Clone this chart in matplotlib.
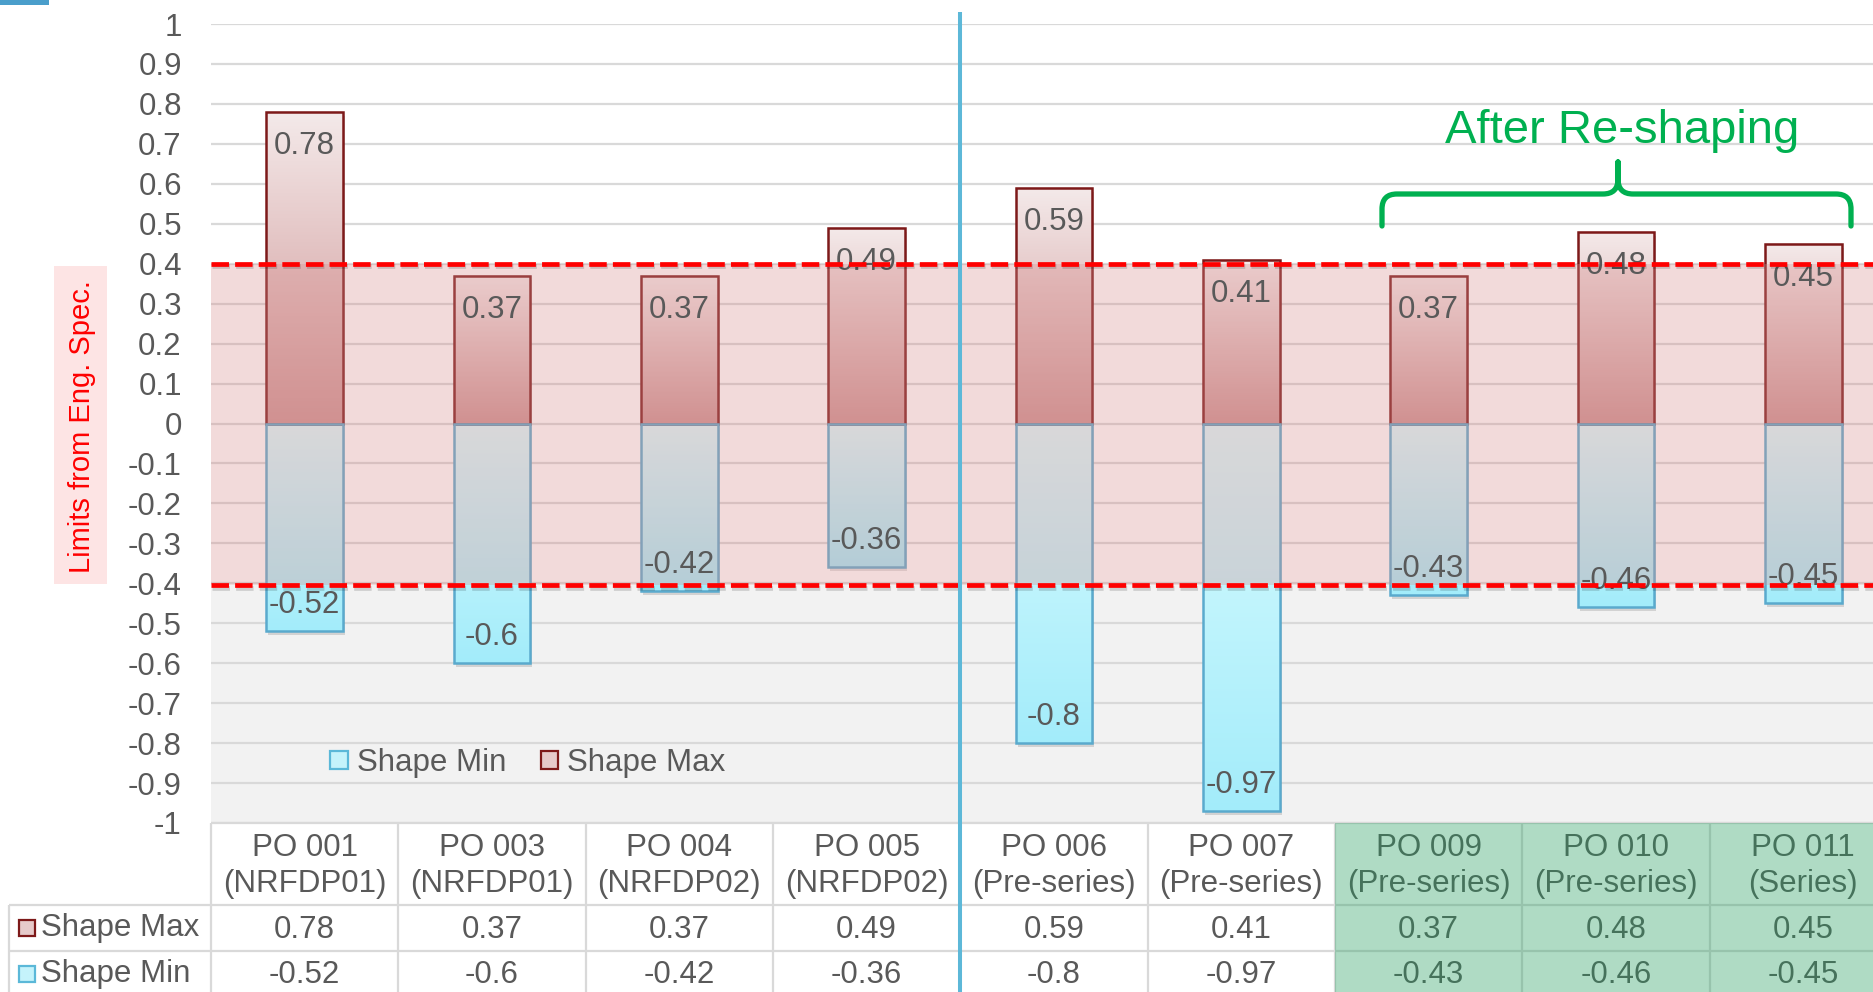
import numpy as np
import matplotlib
matplotlib.use("Agg")
import matplotlib.pyplot as plt
import matplotlib.transforms as mtransforms
import matplotlib.patheffects as pe
from matplotlib.patches import Rectangle, Patch, PathPatch
from matplotlib.path import Path

# ---- data -------------------------------------------------------------
categories = ["PO 001\n(NRFDP01)", "PO 003\n(NRFDP01)", "PO 004\n(NRFDP02)",
              "PO 005\n(NRFDP02)", "PO 006\n(Pre-series)", "PO 007\n(Pre-series)",
              "PO 009\n(Pre-series)", "PO 010\n(Pre-series)", "PO 011\n(Series)"]
shape_max = [0.78, 0.37, 0.37, 0.49, 0.59, 0.41, 0.37, 0.48, 0.45]
shape_min = [-0.52, -0.6, -0.42, -0.36, -0.8, -0.97, -0.43, -0.46, -0.45]
series_names = ["Shape Max", "Shape Min"]
spec_upper = 0.4
spec_lower = -0.405
y_ticks = [round(v, 1) for v in np.arange(-1.0, 1.001, 0.1)]
first_reshaped = 6          # PO 009 onwards
group_split = 3.5           # between PO 005 and PO 006

# ---- styling ----------------------------------------------------------
plt.rcParams["font.family"] = ["Liberation Sans", "DejaVu Sans"]
TXT = "#595959"
FS = 22.5
GRID = "#D9D9D9"
MAX_EDGE = "#7D1919"
MIN_EDGE = "#5AAACD"
MAX_TOP, MAX_BOT = (244, 234, 234), (206, 146, 146)
MIN_TOP, MIN_BOT = (218, 252, 255), (163, 236, 250)

W, H = 1873, 992
fig = plt.figure(figsize=(W / 100, H / 100), dpi=100)
fig.patch.set_facecolor("white")

# plot area in pixels: left 211, top 24, bottom 823, category pitch 187.33
L_PX, T_PX, B_PX, PITCH = 211, 24, 823, 187.33
n = len(categories)
ax = fig.add_axes([L_PX / W, 1 - B_PX / H, n * PITCH / W, (B_PX - T_PX) / H])
PX_PER_Y = (B_PX - T_PX) / 2.0


def px_x(px):
    return -0.5 + (px - L_PX) / PITCH


def px_y(py):
    return 1 - (py - T_PX) / PX_PER_Y


x = np.arange(n)
bw = 0.41

# background below the lower limit
ax.add_patch(Rectangle((-0.5, -1), n, spec_lower + 1, facecolor="#F2F2F2",
                       lw=0, zorder=0.1))

ax.set_axisbelow(True)
ax.grid(axis="y", color=GRID, lw=1.6)
ax.grid(axis="x", visible=False)


def gradient(c0, c1, steps=200):
    t = np.linspace(0, 1, steps)[:, None]
    g = (np.array(c0)[None, :] * (1 - t) + np.array(c1)[None, :] * t) / 255.0
    return g[:, None, :]


shadow_tf = mtransforms.offset_copy(ax.transData, fig=fig, x=2, y=-4, units="dots")
for vals in (shape_max, shape_min):
    ax.bar(x, vals, bw, color="black", alpha=0.13, lw=0, zorder=1.8,
           transform=shadow_tf)

for xi, vmax, vmin in zip(x, shape_max, shape_min):
    ax.imshow(gradient(MAX_TOP, MAX_BOT), extent=(xi - bw / 2, xi + bw / 2, 0, vmax),
              aspect="auto", origin="upper", zorder=2, interpolation="bilinear")
    ax.imshow(gradient(MIN_TOP, MIN_BOT), extent=(xi - bw / 2, xi + bw / 2, vmin, 0),
              aspect="auto", origin="upper", zorder=2, interpolation="bilinear")

ax.bar(x, shape_max, bw, facecolor="none", edgecolor=MAX_EDGE, lw=1.8, zorder=3)
ax.bar(x, shape_min, bw, facecolor="none", edgecolor=MIN_EDGE, lw=1.8, zorder=3)

# engineering specification band drawn over the bars
ax.add_patch(Rectangle((-0.5, spec_lower), n, spec_upper - spec_lower,
                       facecolor=(216 / 255, 144 / 255, 144 / 255), alpha=0.33,
                       lw=0, zorder=4))

# value labels inside the bar ends
for xi, vmax, vmin in zip(x, shape_max, shape_min):
    ax.annotate(f"{vmax:g}", (xi, vmax), xytext=(0, -34), textcoords="offset pixels",
                ha="center", va="center", fontsize=FS, color=TXT, zorder=5)
    ax.annotate(f"{vmin:g}", (xi, vmin), xytext=(0, 26), textcoords="offset pixels",
                ha="center", va="center", fontsize=FS, color=TXT, zorder=5)

shadow = [pe.SimpleLineShadow(offset=(1, -2), shadow_color="black", alpha=0.15), pe.Normal()]
for lim in (spec_upper, spec_lower):
    ax.axhline(lim, color="#FF0000", lw=3.4, dashes=(3.7, 1.3), zorder=6,
               path_effects=shadow)

ax.set_xlim(-0.5, n - 0.5)
ax.set_ylim(-1, 1)
ax.set_xticks([])
ax.set_yticks(y_ticks)
ax.set_yticklabels([("0" if v == 0 else f"{v:g}") for v in y_ticks])
ax.tick_params(axis="y", length=0, pad=21, labelsize=FS, labelcolor=TXT)
for s in ax.spines.values():
    s.set_visible(False)

# legend inside the plot
min_handle = Patch(facecolor="#C5F3FB", edgecolor="#5BB8D8", lw=1.6, label=series_names[1])
max_handle = Patch(facecolor="#E6CACA", edgecolor=MAX_EDGE, lw=1.6, label=series_names[0])
ax.legend(handles=[min_handle, max_handle], ncol=2, loc="center",
          bbox_to_anchor=(px_x(528), px_y(763)), bbox_transform=ax.transData,
          frameon=False, fontsize=FS, handlelength=0.55, handleheight=0.55,
          handletextpad=0.3, columnspacing=1.1, labelcolor=TXT, borderpad=0)

# ---- data table under the plot ----------------------------------------
y_top = -1.0
y_hdr = px_y(905)
y_r1 = px_y(951)
y_r2 = px_y(997)
x_lab = px_x(9)
x_end = n - 0.5

line_kw = dict(color=GRID, lw=1.6, clip_on=False, zorder=3, solid_capstyle="butt")
ax.plot([-0.5, x_end], [y_top, y_top], **line_kw)
for yy in (y_hdr, y_r1, y_r2):
    ax.plot([x_lab, x_end], [yy, yy], **line_kw)
ax.plot([x_lab, x_lab], [y_hdr, y_r2], **line_kw)
for b in np.arange(-0.5, n, 1.0):
    ax.plot([b, b], [y_top, y_r2], **line_kw)

for xi, cat, vmax, vmin in zip(x, categories, shape_max, shape_min):
    ax.annotate(cat, (xi, (y_top + y_hdr) / 2), xytext=(0, -2), textcoords="offset pixels",
                ha="center", va="center", fontsize=FS, color=TXT, linespacing=1.3,
                annotation_clip=False)
    ax.annotate(f"{vmax:g}", (xi, (y_hdr + y_r1) / 2), xytext=(0, -2),
                textcoords="offset pixels", ha="center", va="center", fontsize=FS,
                color=TXT, annotation_clip=False)
    ax.annotate(f"{vmin:g}", (xi, (y_r1 + y_r2) / 2), xytext=(0, -1),
                textcoords="offset pixels", ha="center", va="center", fontsize=FS,
                color=TXT, annotation_clip=False)

sq_w = 16 / PITCH
sq_h = 16 / PX_PER_Y
for (yc, name, h) in (((y_hdr + y_r1) / 2, series_names[0], max_handle),
                      ((y_r1 + y_r2) / 2, series_names[1], min_handle)):
    ax.add_patch(Rectangle((px_x(19), yc - sq_h / 2), sq_w, sq_h,
                           facecolor=h.get_facecolor(), edgecolor=h.get_edgecolor(),
                           lw=1.6, clip_on=False, zorder=3))
    ax.text(px_x(41), yc, name, ha="left", va="center", fontsize=FS, color=TXT,
            clip_on=False)

# highlight of the re-shaped parts
ax.add_patch(Rectangle((first_reshaped - 0.5, y_r2 - 0.1), n - first_reshaped + 0.5,
                       -1 - (y_r2 - 0.1), facecolor=(38 / 255, 158 / 255, 97 / 255),
                       alpha=0.37, lw=0, clip_on=False, zorder=10))

# separator between the first production batches and the pre-series
ax.plot([group_split, group_split], [px_y(12), px_y(1000)], color="#5DB8D8", lw=2.9,
        clip_on=False, zorder=7, solid_capstyle="butt")

# ---- annotations ------------------------------------------------------
fig.text(1622 / W, 1 - 143 / H, "After Re-shaping", ha="center", va="baseline",
         fontsize=34, color="#00B050")


def fp(px, py):
    return (px / W, 1 - py / H)


xl, xm, xr, yb, yl, yt, r = 1382, 1618, 1851, 194, 226, 162, 15
verts = [fp(xl, yl), fp(xl, yb + r), fp(xl, yb), fp(xl + r, yb), fp(xm - r, yb),
         fp(xm, yb), fp(xm, yb - r), fp(xm, yt),
         fp(xr, yl), fp(xr, yb + r), fp(xr, yb), fp(xr - r, yb), fp(xm + r, yb),
         fp(xm, yb), fp(xm, yb - r), fp(xm, yt)]
codes = [Path.MOVETO, Path.LINETO, Path.CURVE3, Path.CURVE3, Path.LINETO,
         Path.CURVE3, Path.CURVE3, Path.LINETO] * 2
fig.add_artist(PathPatch(Path(verts, codes), facecolor="none", edgecolor="#00B050",
                         lw=3.8, capstyle="round", joinstyle="round",
                         transform=fig.transFigure))

fig.add_artist(Rectangle((54 / W, 1 - 584 / H), 53 / W, 318 / H,
                         facecolor="#FDE4E4", lw=0, transform=fig.transFigure))
fig.text(82 / W, 1 - 427 / H, "Limits from Eng. Spec.", rotation=90, ha="center",
         va="center", fontsize=21, color="#FF0000")

fig.add_artist(Rectangle((0, 1 - 5 / H), 49 / W, 5 / H, facecolor="#4A9ECB", lw=0,
                         transform=fig.transFigure))

fig.savefig("out.png", dpi=100)
